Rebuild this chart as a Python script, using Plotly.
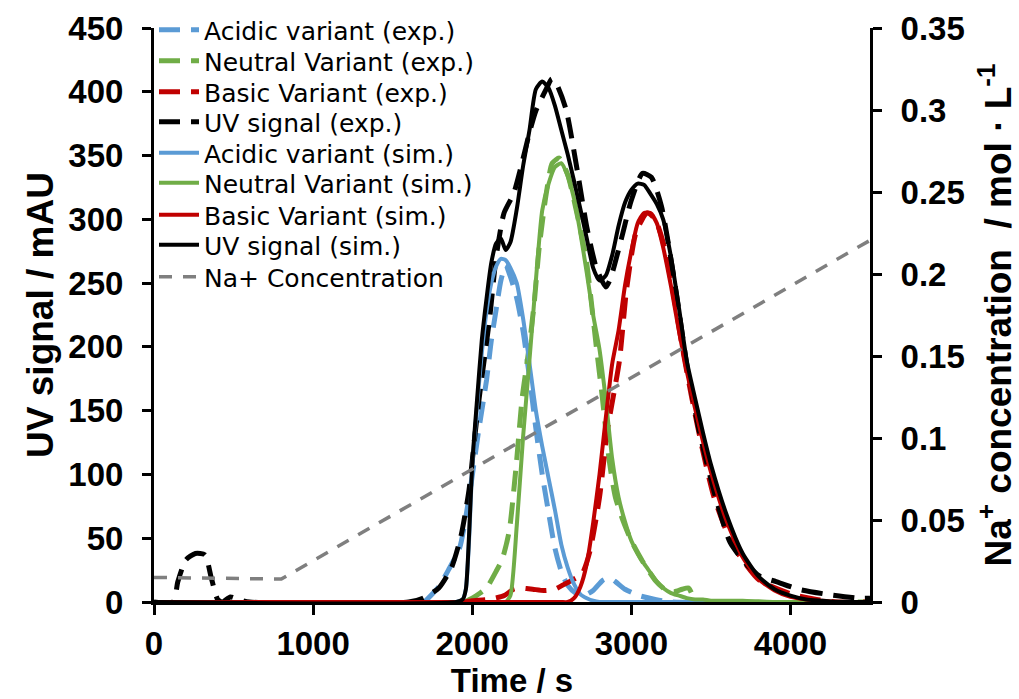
import plotly.graph_objects as go

# ---------------- data ----------------
# simulated curves share one time grid (s)
t_sim = [0, 1900, 1940, 1960, 1980, 2000, 2030, 2060, 2090, 2120, 2150, 2180, 2210, 2240,
         2280, 2320, 2360, 2400, 2440, 2480, 2520, 2560, 2600, 2640, 2680, 2720, 2760, 2800,
         2840, 2880, 2920, 2960, 3000, 3040, 3080, 3120, 3160, 3200, 3250, 3300, 3350, 3400,
         3450, 3500, 3600, 3700, 3800, 3900, 4000, 4100, 4200, 4300, 4500]

acidic_sim = [0, 0, 2, 10, 48, 105, 153, 195, 228, 250, 263, 269, 268, 262,
              250, 222, 187, 150, 122, 97, 72, 45, 27, 14, 6, 3, 1, 0,
              0, 0, 0, 0, 0, 0, 0, 0, 0, 0, 0, 0, 0, 0,
              0, 0, 0, 0, 0, 0, 0, 0, 0, 0, 0]

neutral_sim = [0, 0, 0, 0, 0, 0, 0, 0, 0, 0, 0, 0, 0, 5,
               60, 130, 190, 252, 307, 328, 341, 344, 334, 316, 289, 258, 225, 198,
               158, 112, 82, 63, 48, 38, 30, 23, 16, 11, 7, 5, 3, 2,
               2, 1, 1, 1, 0.5, 0, 0, 0, 0, 0, 0]

basic_sim = [0, 0, 0, 0, 0, 0, 0, 0, 0, 0, 0, 0, 0, 0,
             0, 0, 0, 0, 0, 0, 0, 0, 0, 3, 12, 30, 62, 100,
             145, 187, 213, 248, 275, 297, 305, 305, 297, 278, 247, 212, 180, 152,
             126, 102, 63, 35, 18, 9, 4, 2, 1, 0, 0]

uv_sim = [0, 0, 2, 10, 52, 108, 158, 205, 238, 266, 281, 285, 276, 282,
          308, 342, 370, 402, 408, 403, 389, 370, 351, 330, 308, 285, 262, 252,
          256, 272, 295, 313, 323, 328, 327, 320, 312, 300, 270, 230, 188, 160,
          133, 108, 68, 38, 20, 10, 5, 2, 1, 0, 0]

# experimental curves
t_acidic_exp = [1700, 1790, 1850, 1920, 1980, 2040, 2090, 2120, 2150, 2180, 2210, 2240, 2280,
                2320, 2360, 2400, 2440, 2480, 2520, 2560, 2600, 2650, 2700, 2760, 2820, 2860,
                2900, 2960, 3050, 3150, 3250, 4500]
acidic_exp = [0, 12, 25, 42, 82, 134, 174, 205, 229, 252, 264, 255, 238,
              212, 176, 136, 100, 70, 42, 24, 13, 7, 5, 9, 17, 19,
              16, 10, 5, 2, 0, 0]

t_neutral_exp = [1950, 2000, 2050, 2090, 2150, 2190, 2233, 2277, 2314, 2358, 2390, 2421, 2465,
                 2503, 2547, 2600, 2654, 2717, 2755, 2780, 2818, 2862, 2900, 2950, 3000, 3070,
                 3150, 3220, 3270, 3320, 3360, 3400, 3500, 4500]
neutral_exp = [0, 3, 7, 11, 24, 34, 56, 108, 160, 200, 235, 278, 320,
               344, 348, 335, 307, 268, 228, 200, 160, 110, 82, 63, 48, 32,
               17, 9, 8, 10, 11, 2, 0, 0]

t_basic_exp = [1950, 2000, 2100, 2200, 2260, 2300, 2380, 2450, 2520, 2580, 2640, 2690, 2740,
               2800, 2850, 2925, 2970, 3030, 3100, 3150, 3200, 3260, 3320, 3380, 3450, 3520,
               3635, 3805, 4013, 4164, 4300, 4500]
basic_exp = [0, 1, 2, 5, 10, 11, 10, 9, 10, 14, 18, 22, 40,
             82, 135, 189, 245, 290, 305, 300, 282, 245, 200, 160, 118, 82,
             45, 17, 6, 2, 0, 0]

t_uv_exp = [0, 120, 150, 200, 260, 320, 360, 400, 430, 480, 530, 600, 1600, 1690, 1790, 1870,
            1930, 1980, 2013, 2044, 2110, 2150, 2200, 2260, 2300, 2360, 2400, 2465, 2500,
            2530, 2590, 2670, 2720, 2780, 2840, 2870, 2940, 3000, 3070, 3126, 3190, 3283,
            3350, 3430, 3530, 3620, 3720, 3810, 3910, 4050, 4230, 4430, 4500]
uv_exp = [0, 0, 16, 33, 38, 37, 19, 2, 0, 4, 2, 0, 0, 3, 11, 27,
          52, 88, 126, 160, 223, 270, 305, 320, 338, 368, 385, 402, 410,
          406, 386, 331, 294, 262, 247, 254, 286, 315, 336, 333, 310, 242,
          185, 132, 82, 47, 30, 20, 16, 10, 6, 3, 3]

# Na+ gradient (mol/L)
t_na = [0, 800, 4500]
na_conc = [0.015, 0.014, 0.2205]

# ---------------- styling ----------------
BLUE = "#5B9BD5"
GREEN = "#70AD47"
RED = "#C00000"
BLACK = "#000000"
GREY = "#7F7F7F"
EXP_DASH = "21px,11px"

fig = go.Figure()

legend_ids = ["legend"] + ["legend%d" % i for i in range(2, 10)]

exp_series = [
    ("Acidic variant (exp.)", t_acidic_exp, acidic_exp, BLUE),
    ("Neutral Variant (exp.)", t_neutral_exp, neutral_exp, GREEN),
    ("Basic Variant (exp.)", t_basic_exp, basic_exp, RED),
    ("UV signal (exp.)", t_uv_exp, uv_exp, BLACK),
]
sim_series = [
    ("Acidic variant (sim.)", t_sim, acidic_sim, BLUE),
    ("Neutral Variant (sim.)", t_sim, neutral_sim, GREEN),
    ("Basic Variant (sim.)", t_sim, basic_sim, RED),
    ("UV signal (sim.)", t_sim, uv_sim, BLACK),
]

k = 0
for name, tx, vy, col in exp_series:
    fig.add_trace(go.Scatter(x=tx, y=vy, name=name, mode="lines", legend=legend_ids[k],
                             line=dict(color=col, width=5, dash=EXP_DASH,
                                       shape="spline", smoothing=0.6)))
    k += 1
for name, tx, vy, col in sim_series:
    fig.add_trace(go.Scatter(x=tx, y=vy, name=name, mode="lines", legend=legend_ids[k],
                             line=dict(color=col, width=4, shape="spline", smoothing=0.6)))
    k += 1

fig.add_trace(go.Scatter(x=t_na, y=na_conc, name="Na+ Concentration", mode="lines",
                         yaxis="y2", legend=legend_ids[k],
                         line=dict(color=GREY, width=3.5, dash="13px,11px")))

TICK_FONT = dict(family="Liberation Sans", size=33, color="black", weight="bold")
TITLE_FONT = dict(family="Liberation Sans", size=33, color="black", weight="bold")
SIDE_TITLE_FONT = dict(family="Liberation Sans", size=37, color="black", weight="bold")

# one single-entry legend per trace, stacked down the upper-left corner
legend_rows_px = [30, 61, 92, 122, 153, 183, 215, 245, 277]
plot_top, plot_h = 28, 574
legend_layout = {}
for lid, row in zip(legend_ids, legend_rows_px):
    legend_layout[lid] = dict(
        x=0.0, y=1 - (row - plot_top) / plot_h, xanchor="left", yanchor="middle",
        bgcolor="rgba(0,0,0,0)", itemwidth=40,
        font=dict(family="DejaVu Sans", size=25, color="black"))

fig.update_layout(
    width=1019, height=699,
    margin=dict(l=154, r=149, t=28, b=97, autoexpand=False),
    paper_bgcolor="white", plot_bgcolor="white",
    showlegend=True,
    xaxis=dict(range=[0, 4500], tickvals=[0, 1000, 2000, 3000, 4000],
               showline=True, linecolor="black", linewidth=3,
               ticks="outside", ticklen=10, tickwidth=3, tickcolor="black",
               showgrid=False, zeroline=False, tickfont=TICK_FONT, automargin=False,
               title=dict(text="Time / s", font=TITLE_FONT, standoff=24)),
    yaxis=dict(range=[0, 450], dtick=50,
               showline=True, linecolor="black", linewidth=3,
               ticks="outside", ticklen=9, tickwidth=3, tickcolor="black",
               showgrid=False, zeroline=False, tickfont=TICK_FONT, ticklabelstandoff=12,
               automargin=False,
               title=dict(text="UV signal / mAU", font=SIDE_TITLE_FONT, standoff=4)),
    yaxis2=dict(range=[0, 0.35], dtick=0.05, overlaying="y", side="right",
                showline=True, linecolor="black", linewidth=3,
                ticks="outside", ticklen=9, tickwidth=3, tickcolor="black",
                showgrid=False, zeroline=False, tickfont=TICK_FONT, ticklabelstandoff=12,
                automargin=False,
                title=dict(text="Na<sup>+</sup> concentration  / mol · L<sup>-1</sup>",
                           font=SIDE_TITLE_FONT, standoff=30)),
    **legend_layout,
)

fig.write_html("out.html")
